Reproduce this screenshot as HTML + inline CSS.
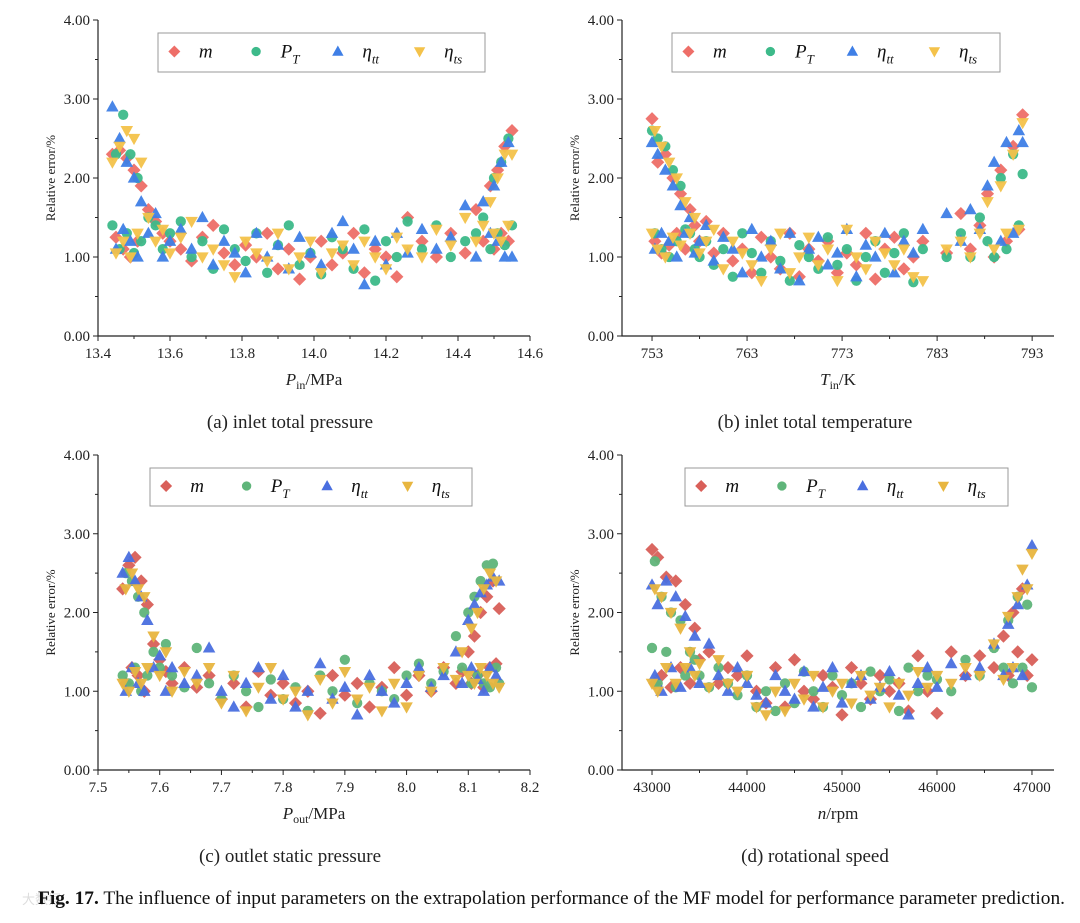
<!DOCTYPE html>
<html><head><meta charset="utf-8">
<style>
body{margin:0;background:#fff;width:1080px;height:918px;overflow:hidden;font-family:"Liberation Serif",serif;}
svg text{font-family:"Liberation Serif",serif;}
</style></head>
<body>
<svg id="fig" width="1080" height="918" viewBox="0 0 1080 918" xmlns="http://www.w3.org/2000/svg">
<text x="22" y="904" font-size="13" fill="#ddd">大数据</text>
<text x="38" y="904" font-size="19" fill="#111" textLength="1027" lengthAdjust="spacingAndGlyphs"><tspan font-weight="bold">Fig. 17.</tspan> The influence of input parameters on the extrapolation performance of the MF model for performance parameter prediction.</text>
</svg>
<script>
// Panel (a)
const xA=[13.44,13.45,13.46,13.47,13.48,13.49,13.5,13.51,13.52,13.54,13.56,13.58,13.6,13.63,13.66,13.69,13.72,13.75,13.78,13.81,13.84,13.87,13.9,13.93,13.96,13.99,14.02,14.05,14.08,14.11,14.14,14.17,14.2,14.23,14.26,14.3,14.34,14.38,14.42,14.45,14.47,14.49,14.5,14.51,14.52,14.53,14.54,14.55];
const mA=[2.3,1.25,2.35,1.1,2.25,1.0,2.1,1.2,1.9,1.6,1.45,1.3,1.2,1.1,0.95,1.25,1.4,1.05,0.9,1.15,1.0,1.3,0.85,1.1,0.72,1.0,1.2,0.9,1.05,1.3,0.8,1.1,1.0,0.75,1.5,1.2,1.0,1.3,1.05,1.6,1.2,1.9,1.1,2.1,1.3,2.4,1.2,2.6];
const pA=[1.4,2.3,1.1,2.8,1.3,2.3,1.05,2.0,1.2,1.5,1.4,1.1,1.3,1.45,1.0,1.2,0.85,1.35,1.1,0.95,1.3,0.8,1.15,1.4,0.9,1.05,0.78,1.25,1.1,0.85,1.35,0.7,1.2,1.0,1.45,1.1,1.4,1.0,1.2,1.3,1.5,1.1,2.0,1.3,2.2,1.15,2.5,1.4];
const tA=[2.9,1.1,2.5,1.35,2.2,1.2,2.0,1.0,1.7,1.3,1.55,1.0,1.2,1.35,1.1,1.5,0.9,1.2,1.05,0.8,1.3,1.0,1.15,0.85,1.25,1.05,0.9,1.3,1.45,1.1,0.65,1.2,0.9,1.3,1.05,1.35,1.1,1.25,1.65,1.0,1.7,1.3,1.9,1.2,2.2,1.0,2.45,1.0];
const sA=[2.2,1.05,2.4,1.2,2.6,1.0,2.5,1.3,2.2,1.5,1.2,1.35,1.05,1.25,1.45,1.0,1.1,0.9,0.75,1.2,1.05,0.95,1.3,0.85,1.0,1.2,0.8,1.05,1.15,0.9,1.2,1.0,0.85,1.25,1.1,1.0,1.35,1.15,1.5,1.2,1.4,1.7,1.3,2.0,1.2,2.3,1.4,2.3];
const ticksA=["13.4","13.6","13.8","14.0","14.2","14.4","14.6"];
// Panel (b)
const xB=[753,753.3,753.6,754,754.4,754.8,755.2,755.6,756,756.5,757,757.5,758,758.7,759.5,760.5,761.5,762.5,763.5,764.5,765.5,766.5,767.5,768.5,769.5,770.5,771.5,772.5,773.5,774.5,775.5,776.5,777.5,778.5,779.5,780.5,781.5,784,785.5,786.5,787.5,788.3,789,789.7,790.3,791,791.6,792];
const mB=[2.75,1.2,2.2,1.05,2.3,1.15,2.0,1.3,1.8,1.1,1.6,1.4,1.2,1.45,1.05,1.3,0.95,1.1,0.8,1.25,1.0,0.85,1.3,0.75,1.1,0.95,1.2,0.8,1.05,0.9,1.3,0.72,1.1,1.25,0.85,1.0,1.2,1.05,1.55,1.1,1.4,1.8,1.0,2.1,1.2,2.4,1.35,2.8];
const pB=[2.6,1.3,2.5,1.1,2.4,1.0,2.1,1.2,1.9,1.35,1.3,1.1,1.0,1.2,0.9,1.1,0.75,1.3,1.05,0.8,1.2,0.95,0.7,1.15,1.0,0.85,1.25,0.9,1.1,0.7,1.0,1.2,0.8,1.05,1.3,0.68,1.1,1.0,1.3,1.0,1.5,1.2,1.0,2.0,1.1,2.3,1.4,2.05];
const tB=[2.45,1.1,2.3,1.3,2.1,1.2,1.9,1.0,1.65,1.3,1.5,1.05,1.2,1.4,0.95,1.25,1.1,0.8,1.35,1.0,1.2,0.85,1.3,0.7,1.1,1.25,0.9,1.05,1.35,0.75,1.15,1.0,1.3,0.8,1.2,1.05,1.35,1.55,1.2,1.6,1.35,1.9,2.2,1.2,2.45,1.3,2.6,2.45];
const sB=[1.3,2.6,1.1,2.4,1.0,2.2,1.25,2.0,1.15,1.7,1.3,1.5,1.05,1.2,1.35,0.85,1.2,1.05,0.9,0.7,1.1,1.3,0.8,1.0,1.25,0.9,1.1,0.7,1.35,1.0,0.85,1.2,1.05,0.9,1.1,0.75,0.7,1.1,1.2,1.0,1.3,1.7,1.1,1.9,1.3,2.3,1.35,2.7];
const ticksB=["753","763","773","783","793"];
// Panel (c)
const xC=[7.54,7.545,7.55,7.555,7.56,7.565,7.57,7.575,7.58,7.59,7.6,7.61,7.62,7.64,7.66,7.68,7.7,7.72,7.74,7.76,7.78,7.8,7.82,7.84,7.86,7.88,7.9,7.92,7.94,7.96,7.98,8.0,8.02,8.04,8.06,8.08,8.09,8.1,8.105,8.11,8.115,8.12,8.125,8.13,8.135,8.14,8.145,8.15];
const mC=[2.3,1.1,2.6,1.3,2.7,1.2,2.4,1.0,2.1,1.6,1.4,1.25,1.1,1.3,1.05,1.2,0.9,1.1,0.8,1.25,0.95,1.1,0.85,1.0,0.72,1.2,0.95,1.1,0.8,1.05,1.3,0.95,1.2,1.0,1.3,1.1,1.25,1.5,1.1,1.7,1.2,2.0,1.05,2.2,1.3,2.4,1.35,2.05];
const pC=[1.2,2.5,1.1,2.4,1.3,2.2,1.0,2.0,1.2,1.5,1.3,1.6,1.2,1.05,1.55,1.1,0.9,1.2,1.0,0.8,1.15,0.9,1.05,0.75,1.2,1.0,1.4,0.85,1.1,1.0,0.9,1.2,1.35,1.1,1.25,1.7,1.3,2.0,1.1,2.2,1.2,2.4,1.1,2.6,1.05,2.62,1.3,1.1];
const tC=[2.5,1.0,2.7,1.3,2.4,1.1,2.2,1.0,1.9,1.3,1.45,1.0,1.3,1.1,1.2,1.55,1.0,0.8,1.1,1.3,0.9,1.2,0.8,1.0,1.35,0.9,1.05,0.7,1.2,1.0,0.85,1.1,1.3,1.05,1.2,1.5,1.1,1.9,1.3,2.1,1.15,2.25,1.0,2.35,1.3,2.45,1.2,2.4];
const sC=[1.1,2.3,1.0,2.5,1.25,2.3,1.1,2.2,1.3,1.7,1.2,1.5,1.0,1.25,1.1,1.3,0.85,1.2,0.75,1.05,1.3,0.9,1.0,0.7,1.15,0.85,1.25,0.9,1.05,0.75,1.1,0.8,1.2,1.0,1.3,1.15,1.5,1.2,1.8,1.1,2.0,1.3,2.3,1.2,2.5,1.1,2.4,1.05];
const ticksC=["7.5","7.6","7.7","7.8","7.9","8.0","8.1","8.2"];
// Panel (d)
const xD=[43000,43030,43060,43100,43150,43200,43250,43300,43350,43400,43450,43500,43600,43700,43800,43900,44000,44100,44200,44300,44400,44500,44600,44700,44800,44900,45000,45100,45200,45300,45400,45500,45600,45700,45800,45900,46000,46150,46300,46450,46600,46700,46750,46800,46850,46900,46950,47000];
const mD=[2.8,1.1,2.7,1.2,2.45,1.05,2.4,1.3,2.1,1.1,1.8,1.4,1.5,1.1,1.3,1.2,1.45,1.0,0.85,1.3,0.8,1.4,1.0,0.9,1.2,1.05,0.7,1.3,1.1,0.9,1.2,1.0,1.1,0.75,1.45,1.0,0.72,1.5,1.2,1.45,1.3,1.7,1.2,2.0,1.5,2.3,1.2,1.4];
const pD=[1.55,2.65,1.1,2.2,1.5,2.0,1.05,1.9,1.2,1.5,1.4,1.2,1.05,1.3,1.1,0.95,1.2,0.8,1.0,0.75,1.1,0.85,1.25,1.0,0.8,1.2,0.95,1.1,0.8,1.25,1.0,1.15,0.75,1.3,1.0,1.2,1.15,1.0,1.4,1.2,1.55,1.3,1.9,1.1,2.2,1.3,2.1,1.05];
const tD=[2.35,1.2,2.1,1.0,2.4,1.3,2.2,1.05,1.95,1.3,1.7,1.1,1.6,1.2,1.0,1.3,1.1,0.95,0.85,1.2,1.0,0.9,1.25,0.8,1.05,1.3,0.85,1.1,1.2,0.9,1.05,1.25,0.95,0.7,1.1,1.3,1.05,1.35,1.2,1.3,1.6,1.2,1.85,1.3,2.1,1.2,2.35,2.85];
const sD=[1.1,2.3,1.0,2.2,1.3,2.0,1.1,1.8,1.3,1.5,1.2,1.35,1.05,1.4,1.1,1.0,1.2,0.8,0.7,1.0,0.75,1.1,0.9,1.2,0.8,1.0,1.1,0.85,1.2,0.95,1.05,0.8,1.1,0.95,1.25,1.05,1.2,1.1,1.3,1.2,1.6,1.15,1.95,1.3,2.2,2.55,2.3,2.75];
const ticksD=["43000","44000","45000","46000","47000"];
const yTicks=["0.00","1.00","2.00","3.00","4.00"];

const NS="http://www.w3.org/2000/svg";
const svg=document.getElementById('fig');
function mk(tag,attrs,parent){const e=document.createElementNS(NS,tag);for(const k in attrs)e.setAttribute(k,attrs[k]);(parent||svg).appendChild(e);return e;}

const colsAB=["#ee6e68","#3dba8a","#3f7fe6","#f4c24a"];
const colsCD=["#d95f59","#5fb57a","#4a6fe0","#e8b640"];
const serNames=["m","p-t","eta-tt","eta-ts"];

const panels=[
 {id:'a',L:98,R:530,T:20,B:336,xmin:13.4,xmax:14.6,ticks:ticksA,x:xA,ys:[mA,pA,tA,sA],cols:colsAB,leg:[158,33,327,39],
  xlab:['P','in','/MPa'],cap:'(a) inlet total pressure',capx:290,capy:428},
 {id:'b',L:622,R:1054,T:20,B:336,xmin:749.84,xmax:795.3,ticks:ticksB,x:xB,ys:[mB,pB,tB,sB],cols:colsAB,leg:[672,33,328,39],
  xlab:['T','in','/K'],cap:'(b) inlet total temperature',capx:815,capy:428},
 {id:'c',L:98,R:530,T:455,B:770,xmin:7.5,xmax:8.2,ticks:ticksC,x:xC,ys:[mC,pC,tC,sC],cols:colsCD,leg:[150,468,322,38],
  xlab:['P','out','/MPa'],cap:'(c) outlet static pressure',capx:290,capy:862},
 {id:'d',L:622,R:1054,T:455,B:770,xmin:42684,xmax:47232,ticks:ticksD,x:xD,ys:[mD,pD,tD,sD],cols:colsCD,leg:[685,468,323,38],
  xlab:['n','','/rpm'],cap:'(d) rotational speed',capx:815,capy:862}
];

function marker(g,k,cx,cy,c,s){
 let e;
 if(k===0) e=mk('polygon',{points:`${cx},${cy-s} ${cx+s},${cy} ${cx},${cy+s} ${cx-s},${cy}`,fill:c},g);
 else if(k===1) e=mk('circle',{cx:cx,cy:cy,r:s*0.78,fill:c},g);
 else if(k===2) e=mk('polygon',{points:`${cx},${cy-s} ${cx+s*0.95},${cy+s*0.7} ${cx-s*0.95},${cy+s*0.7}`,fill:c},g);
 else e=mk('polygon',{points:`${cx},${cy+s} ${cx+s*0.95},${cy-s*0.7} ${cx-s*0.95},${cy-s*0.7}`,fill:c},g);
 return e;
}

panels.forEach(p=>{
 const g=mk('g',{});
 
 
 const X=v=>p.L+(v-p.xmin)/(p.xmax-p.xmin)*(p.R-p.L);
 const Y=v=>p.B-(v/4)*(p.B-p.T);
 const ax=mk('path',{d:`M${p.L},${p.T}V${p.B}H${p.R}`,stroke:'#222','stroke-width':1.2,fill:'none'},g);
 
 
 yTicks.forEach((t,i)=>{
  const y=Y(parseFloat(t));
  mk('line',{x1:p.L-5,x2:p.L,y1:y,y2:y,stroke:'#222'},g);
  if(i<4) mk('line',{x1:p.L-3,x2:p.L,y1:y-(p.B-p.T)/8,y2:y-(p.B-p.T)/8,stroke:'#222'},g);
  const tx=mk('text',{x:p.L-8,y:y+5,'font-size':15,'text-anchor':'end',fill:'#222'},g);
  tx.textContent=t;
  
  
 });
 p.ticks.forEach((t,i)=>{
  const x=X(parseFloat(t));
  mk('line',{x1:x,x2:x,y1:p.B,y2:p.B+5,stroke:'#222'},g);
  if(i<p.ticks.length-1){const x2=X((parseFloat(t)+parseFloat(p.ticks[i+1]))/2);mk('line',{x1:x2,x2:x2,y1:p.B,y2:p.B+3,stroke:'#222'},g);}
  const tx=mk('text',{x:x,y:p.B+22,'font-size':15,'text-anchor':'middle',fill:'#222'},g);
  tx.textContent=t;
  
  
 });
 const yt=mk('text',{x:0,y:0,'font-size':13,'text-anchor':'middle',fill:'#222',transform:`translate(${p.L-43},${(p.T+p.B)/2}) rotate(-90)`},g);
 yt.textContent='Relative error/%';
 
 
 const xt=mk('text',{x:(p.L+p.R)/2,y:p.B+49,'font-size':17,'text-anchor':'middle',fill:'#222'},g);
 
 
 xt.innerHTML=`<tspan font-style="italic">${p.xlab[0]}</tspan>${p.xlab[1]?`<tspan font-size="12" dy="4">${p.xlab[1]}</tspan><tspan dy="-4">${p.xlab[2]}</tspan>`:p.xlab[2]}`;
 const cp=mk('text',{x:p.capx,y:p.capy,'font-size':19,'text-anchor':'middle',fill:'#222'},g);
 cp.textContent=p.cap;
 
 
 p.ys.forEach((ys,k)=>{
  const sg=mk('g',{opacity:0.95},g);
  
  
  ys.forEach((v,i)=>{
   const m=marker(sg,k,X(p.x[i]),Y(v),p.cols[k],6.6);
   
   
  });
 });
 const [lx,ly,lw,lh]=p.leg;
 const lg=mk('g',{},g);
 
 
 mk('rect',{x:lx,y:ly,width:lw,height:lh,fill:'#fff',stroke:'#999','stroke-width':1},lg);
 const labs=['<tspan font-style="italic">m</tspan>','<tspan font-style="italic">P</tspan><tspan font-style="italic" font-size="13" dy="6">T</tspan>','<tspan font-style="italic">η</tspan><tspan font-style="italic" font-size="13" dy="6">tt</tspan>','<tspan font-style="italic">η</tspan><tspan font-style="italic" font-size="13" dy="6">ts</tspan>'];
 const step=lw/4;
 for(let k=0;k<4;k++){
  const cx=lx+step*k+step*0.2, cy=ly+lh/2-1;
  const mm=marker(lg,k,cx,cy,p.cols[k],6);
  
  
  const t=mk('text',{x:cx+step*0.3,y:cy+6,'font-size':19,fill:'#111'},lg);
  t.innerHTML=labs[k];
  
  
 }
});
</script>
</body></html>
